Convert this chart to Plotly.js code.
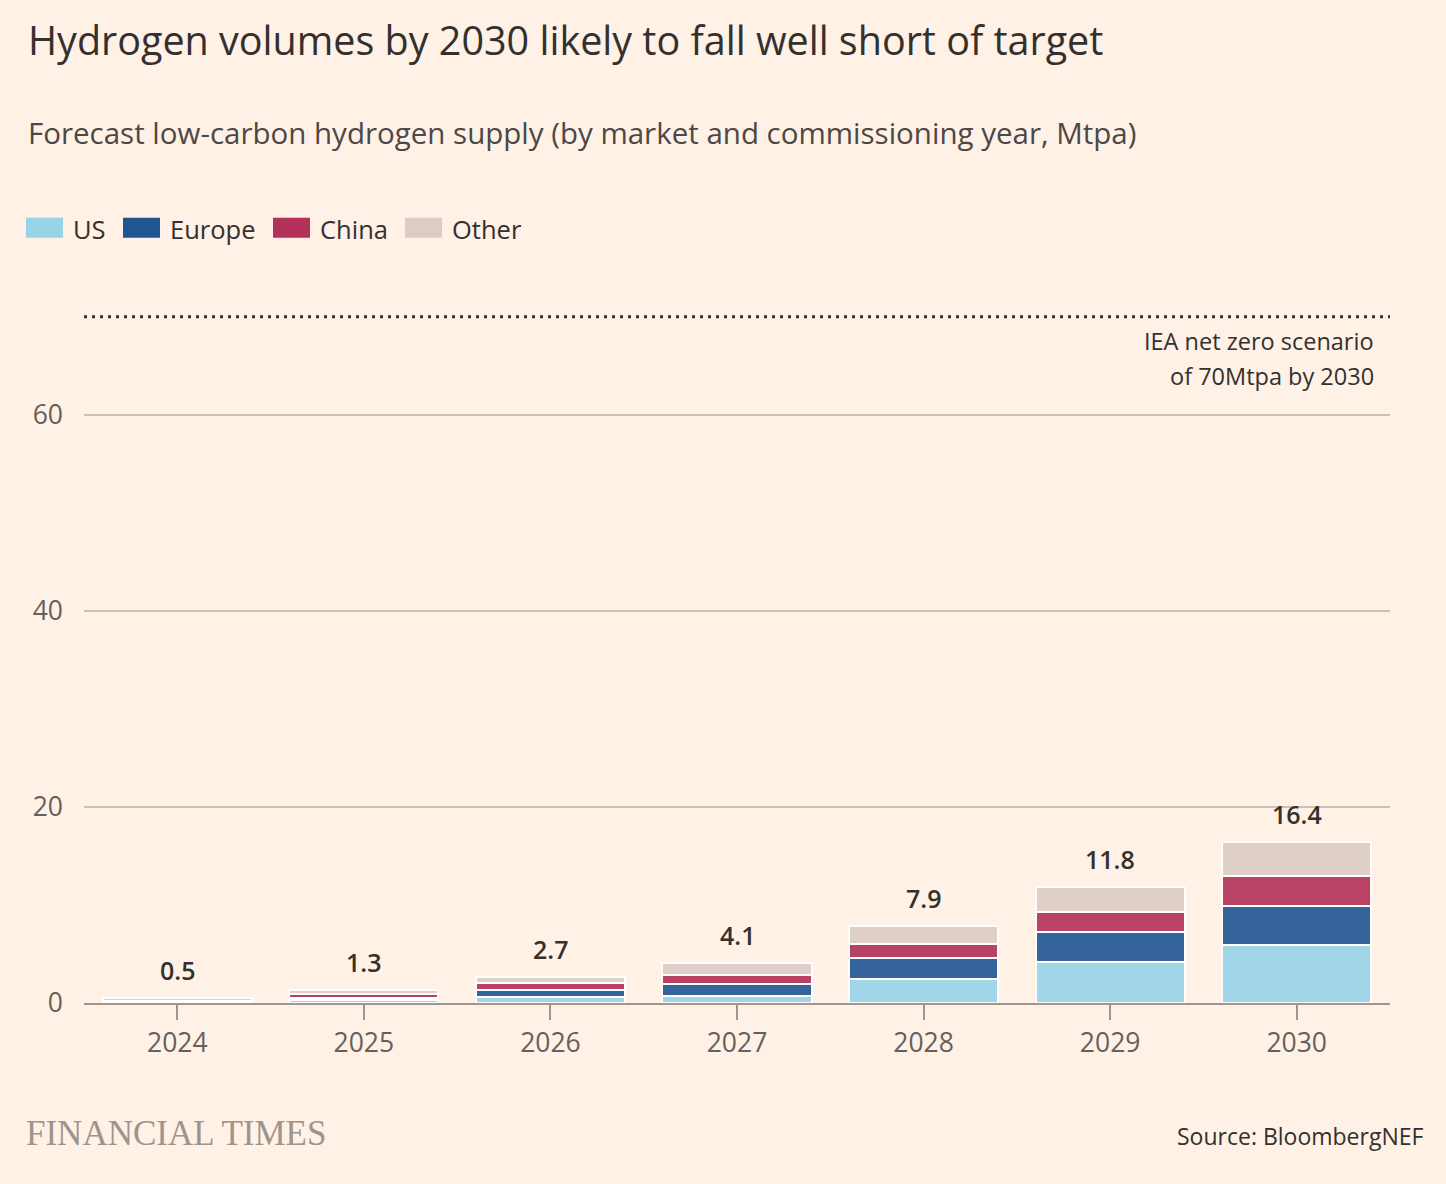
<!DOCTYPE html>
<html>
<head>
<meta charset="utf-8">
<script src="https://cdn.plot.ly/plotly-3.0.1.min.js"></script>
<style>
  html, body { margin: 0; padding: 0; background: #FFF1E5; }
  #chart { width: 1446px; height: 1184px; }
</style>
</head>
<body>
<div id="chart"></div>
<script>
// ---- Data ----
const years = ["2024", "2025", "2026", "2027", "2028", "2029", "2030"];
const us     = [0.15, 0.35, 0.6, 0.7, 2.4, 4.2, 5.9];
const europe = [0.05, 0.2,  0.7, 1.2, 2.2, 3.0, 4.0];
const china  = [0.05, 0.35, 0.7, 1.0, 1.4, 2.1, 3.1];
const other  = [0.25, 0.4,  0.7, 1.2, 1.9, 2.5, 3.4];
const seriesNames = ["US", "Europe", "China", "Other"];
const seriesColors = ["#96d4e8", "#1f5591", "#b2305a", "#dbcdc4"];
const targetValue = 70;
const targetLabelLines = ["IEA net zero scenario", "of 70Mtpa by 2030"];
const yTicks = [0, 20, 40, 60];

// ---- Build ----
const seriesData = [us, europe, china, other];
const FONT = "'Open Sans', Lato, sans-serif";
const traces = seriesData.map((vals, i) => ({
  type: "bar",
  name: seriesNames[i],
  x: years,
  y: vals,
  marker: { color: seriesColors[i], opacity: 0.9, line: { color: "#ffffff", width: 2 } },
  hoverinfo: "x+y+name",
  showlegend: false
}));

const totals = years.map((_, j) => seriesData.reduce((s, arr) => s + arr[j], 0));

const annotations = totals.map((t, j) => ({
  x: j, y: t, xref: "x", yref: "y",
  text: t.toFixed(1), showarrow: false,
  yanchor: "bottom", yshift: 9,
  font: { family: FONT, size: 25, color: "#33302e", weight: 600 }
}));

targetLabelLines.forEach((line, k) => {
  annotations.push({
    x: 1, xref: "paper", xanchor: "right", xshift: -14,
    y: targetValue, yref: "y", yanchor: "middle", yshift: -24 - 35 * k,
    text: line, showarrow: false, align: "right",
    font: { family: FONT, size: 23.5, color: "#33302e" }
  });
});

const W = 1446, H = 1184;
const PL = 84, PR = 1390, PT = 307.2, PB = 1003;
function cont(xp, yp, text, opts) {
  return Object.assign({
    xref: "paper", yref: "paper",
    x: (xp - PL) / (PR - PL), y: (PB - yp) / (PB - PT),
    text: text, showarrow: false
  }, opts);
}
annotations.push(cont(26, 40, "Hydrogen volumes by 2030 likely to fall well short of target",
  { xanchor: "left", yanchor: "middle", font: { family: FONT, size: 39.5, color: "#33302e" } }));
annotations.push(cont(26, 133, "Forecast low-carbon hydrogen supply (by market and commissioning year, Mtpa)",
  { xanchor: "left", yanchor: "middle", font: { family: FONT, size: 29.5, color: "#4d4845" } }));
annotations.push(cont(24, 1133, "FINANCIAL TIMES",
  { xanchor: "left", yanchor: "middle", font: { family: "'Liberation Serif', 'DejaVu Serif', serif", size: 35, color: "#9e948c" } }));
annotations.push(cont(1426, 1136, "Source: BloombergNEF",
  { xanchor: "right", yanchor: "middle", font: { family: FONT, size: 23, color: "#33302e" } }));

// custom legend
const legendX = [26, 123, 273, 405];
const shapes = [];
seriesNames.forEach((n, i) => {
  const x0 = (legendX[i] - PL) / (PR - PL), x1 = (legendX[i] + 37 - PL) / (PR - PL);
  const y0 = (PB - 238) / (PB - PT), y1 = (PB - 218) / (PB - PT);
  shapes.push({ type: "rect", xref: "paper", yref: "paper", x0: x0, x1: x1, y0: y0, y1: y1,
    fillcolor: seriesColors[i], line: { width: 0 } });
  annotations.push(cont(legendX[i] + 45, 229, n,
    { xanchor: "left", yanchor: "middle", font: { family: FONT, size: 25.5, color: "#33302e" } }));
});

shapes.push({
  type: "line", xref: "paper", yref: "y", x0: 0, x1: 1, y0: targetValue, y1: targetValue,
  line: { color: "#33302e", width: 3, dash: "3px,5px" }
});

const layout = {
  width: W, height: H,
  paper_bgcolor: "#FFF1E5", plot_bgcolor: "#FFF1E5",
  margin: { l: PL, r: W - PR, t: PT, b: H - PB, pad: 0 },
  barmode: "stack", bargap: 0.2,
  showlegend: false,
  font: { family: FONT, color: "#66605c" },
  xaxis: {
    type: "category", range: [-0.5, years.length - 0.5],
    showline: true, linecolor: "#a0968e", linewidth: 2,
    ticks: "outside", ticklen: 15, tickcolor: "#a0968e", tickwidth: 2,
    tickfont: { family: FONT, size: 26.5, color: "#66605c" },
    ticklabelstandoff: 0,
    showgrid: false, zeroline: false, fixedrange: true
  },
  yaxis: {
    range: [0, 71], tickvals: yTicks,
    showgrid: true, gridcolor: "#ccc1b7", gridwidth: 1.5,
    zeroline: false, showline: false, ticks: "",
    tickfont: { family: FONT, size: 26.5, color: "#66605c" },
    ticklabelstandoff: 20, fixedrange: true
  },
  shapes: shapes,
  annotations: annotations
};

Plotly.newPlot("chart", traces, layout, { displayModeBar: false, staticPlot: true });
</script>
</body>
</html>
